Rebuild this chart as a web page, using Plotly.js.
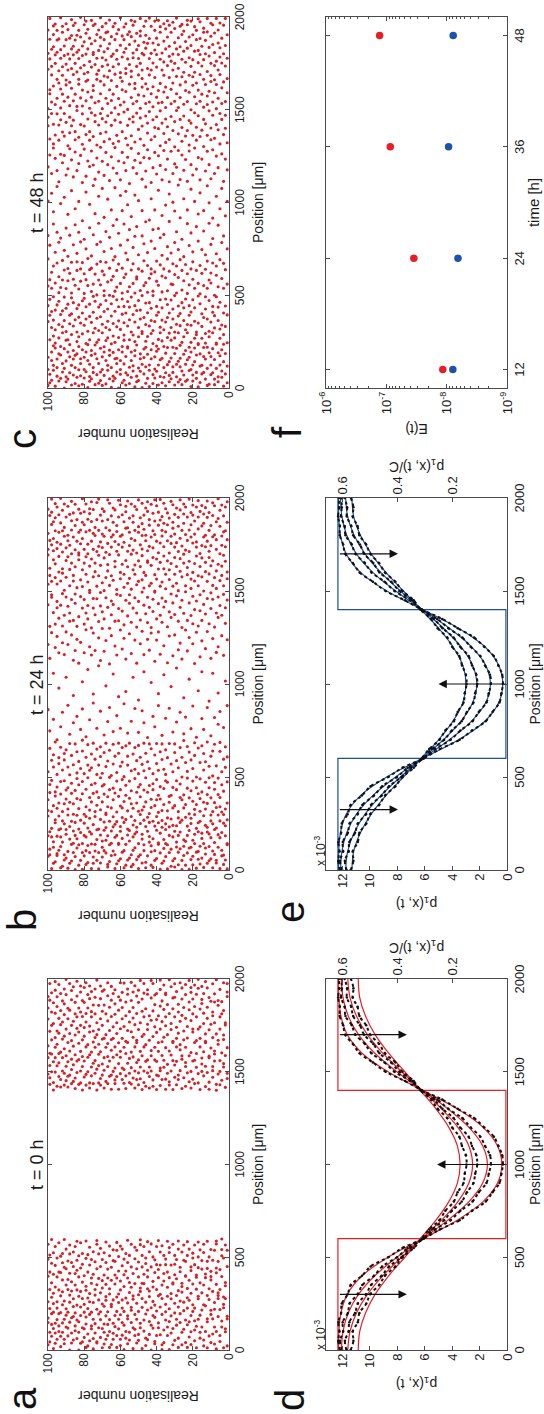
<!DOCTYPE html>
<html><head><meta charset="utf-8">
<script src="https://cdn.plot.ly/plotly-3.0.1.min.js"></script>
<style>
html,body{margin:0;padding:0;width:544px;height:1414px;overflow:hidden;background:#fff;}
#fig{position:absolute;left:0;top:0;width:1414px;height:544px;transform-origin:0 0;transform:translateY(1414px) rotate(-90deg);}
</style></head><body><div id="fig"></div>
<script>
// ---------------- DATA ----------------
// agent positions for each realisation 1..100, as 3-digit values in units of 2 um
const realisationsT0 = [
"011084091225269732746815953965988","049057139173182283708794876882","006114123143248763772837849915990","062078198254271299727801906939","023039109163217715751780865898972",
"090139147154239744824835929942","003050177208221286294700716852998","016062110128269779798806882938960","043084158242735753764842901911987","020096107189198212271814878940",
"038136165251703722788792863950","006076084147220239293748894924976","050119195205710765828832852993","011027122175263285739804880908961","062108154218241751771787934945980",
"032048094181270702817840871919","083138145222251291720745865975999","006064164196202762799834898959","025054079113230283718781829926984","104122178248261730779857865906946",
"015049093153214224706751802888964977","035076134188272723793917938996","007068113141166255292747841872","020081199200239711764775816894958985","056106129242283734836860923",
"014048156171180264705784793902946976","074098132211223753809823886990","007032116160272294729741854911932","067083147192244715778817840870966","026100126203231255735768898951987",
"014058178181285702780829832920949","046092138152229752795864880979","001077111195263276714723806907998","039062145169210293746770850931","081103123230245703730815874898958962",
"020054186206255762781843918984","001014096139175281729794831885941","041116150229264713753760865927972997","060073146195217295739805829901","039105163230279702741778856891961",
"017023088121209243782816871931957","059093131170185251711728845914988","000067114224286752793807889949996","042077144159265706737763835901","028108165197215292747782864878959971",
"012032097129233248711778823920","051081179204279721752817851898962988","004115139180224255702793845913946","060072158167284297731763805882996","026042104149197237715747782864937970",
"019083126219269729775829835907954","039056096179246277706752817877982","004060137146206733790843895923965","074107115169224285717761803858942991","027048155182255721746786884912",
"017084092127194236296773829861959973","032050140213260705739799832901938","001067104171203245719756816872989","040074113135227272729760840893923964","012029095162186280745789805866943990",
"057083128151213252703772828916952","007039104143194269290737796853882","063093178202239718728760817905933971","029045072135241270751789840871961","015117123188223703741808837899943980",
"007050082151165254280738779861924","039069103194218718764791826887955990","029092134144177236291724816850906","016048070118202262706754788840930971","006058124167187244741771838875913967",
"034082103154225274714732804893947981","060097135193259720767797824864929","019022110176219285295701757850882997","046071148163238746780816842906951973","003031083128204265718773830860930",
"057065102180194244739763803898912966","025096130152229277706720796857873947981","011043112140210257750789823922958","007070089161172247294714743817884907990","034057102123200736779846869937977",
"022060139183231260701764791836899942","018093116158221289720752805875911965981","000048076145197254716783827857922","031081121162215242293748779867898954994","052065100175206279705733796849906937",
"027090117138225264724769819886979","019046087159184236718756784834875944969","000075129148207259283741806853916988","038059102163190240709738777829893921","062094111175219272726765793865958999",
"017029083132223298714746812846904933973","048073122157189235260752788838884941","009037101146209253709729803877915961","050065098162210289737774799854894985","029082113130197248711766824860926952",
"018046072170228279749788816842908970993","004058102125153204262701721777880936","037069098142181234298750798836875911963","022048112163210256716734767800859943988","014074086130199245285744788820892922953"];
const realisationsT24 = [
"003068071135180237304442619726783801888935990","027092119164276331508663705830869912976","015040126149212298383577741764846909952","038053101156229264630685792817873898981","004087132170195319343426711778850924967",
"061095148203247392476600679734822945998","019026113168280585691757804862888936","042074109181217235338410653786901979","006051124157253320529622728765831896953987","030087132148194306361569703745818872926",
"025063097221248279454662796840857913961","018102115179203344437641730776884948992","043059120164236291595688802827869900974","007071146182269313378714750895932957","032085099210334407533616671788839872925980",
"016064131158192245289573697740816851964","029050103127205328482656764791917949993","005048112176221250357639723844868882976","071096149163308342555700777824903938","014037080185239273441608662736800879954981",
"028061125139213296380684757782895928961","002059106151194317513625718830856914997","046093118220247265332589671794813886949","013077142176289411645748764860902976","039064081167202348366463690825849932957984",
"001026134189250303567652725788871913","057102128195231329424610706803837892968995","014048093140157275592669751856924948","062075119216240294398543737771816880973","008031104173316339632687795840868903956",
"025089120167222264371576718763919935982","010056137201285493679742824878897991","047093116182198340435629694781807852946","003068140159236302557654831885928960","036071109124240257323408722756795909971",
"024058082176219271525603707810844869932986","018115133160297339362666731774898913950","002046099191224318580685763827879941996","069073127155201268442474640716809853927962","031107144189243286340618675782836884979",
"026052118173309385561747750794902938995","007084131216232259413695728840866912959","013049065168190326504637652771819895983","075090128152227273339591706764870927942","038104142209291356620665733827831858964990",
"006021117183248314689792885900973","052068134170215267341396533579712758800916954","019083096161284428642747780845863899931986","041125149197230303608672816874947","004036071158223259335370457722776831908923995",
"028102115180209294556653691767852969","060097133246271329434618732795820886913977","015053089121166312518704807860935952","009041144178213267400582666755849891984","032078106193239341635717740784872908946",
"027094110159282306368683771815857920992","013069136201228334480567725832919963978","006052128184251447623659760795881936","048085141167243290329594696822868901955","030104117172216279381645738783800897982",
"025069072198314341466670703847875949994","017093130156239262415578741754857910926","004041088123207306602669815830883968","051116143189220285338372527714779901935973","039072105167254630686723791868895952",
"023068131216249322437554650765848913986","008015092170197293399706804821878942995","046080114149153278341495617732786854920","052107129204230316363588675751839897964","035061078183226260649694772867903938971",
"019094136162248305331427563710746819882954","003047110195282549624668791846870913997","026082108174210257325381729763856942988","051069144157233298590686802825899921","018035122206341449473637704730788862905969",
"004070097183229275312578651836884937990","047103139161195268404600746752817913958971","020066113248282337539675711774850876943","015052089144170217303358646691795842909984","038093126150259584661727825862928963",
"002047071205238320349433506704762807891935998","026101134189273378612735780877914959","013068110165229292556681834847853908970","059084147192246261318413620655759884942","001036093128214339590717742815861926983",
"047072105150178283396469564671777792895960","024069131206233308632727825850914939991","018083117182256340365669691764808873956","005050148164221277443606709842885900978","032096109191215323518640734787832866949",
"027041124178240296313579685752897921984","010075132157269424611656743798810855912967","006063089111204238330385712777876933999","053108145180286302489584677801843908955","039044091166223257350628705722769864881976",
"022127135199210344598661786823912947985","018061076173277310405529692834858891936","004089112157241295638733740776874929962997","041056103208230327374569655792811886953","037092145160189264431606713768847862905970"];
const realisationsT48 = [
"014059122197280375503588661796834889952","038093166221319464617700735772868923996","005071118144202269336410557683825901978","029046103170295392538631724767809876943","062087134159231346483658740845892917984",
"017030095182218273439594696781857930965","053118121246304329362517625710753818881996","009024077162195250578673796831869904957","041106149204220337403458642735771926979","036062085178283310387564669701826842875948983",
"010095138153236291444499602747800895918","007053110186269342545638681764787853960996","024078121147213246320359585712818901937","042085109190276423478651724757832885959970","038061134166200309373617695792868921",
"015059092227254330526561678773845899942987","003117120175248282396469621734803877910995","026042089144151317435590668703766822939964","071108134180216269503647742785851908974","019035062238293340367574681816839885952",
"004050097123169205321418536602714750867923989","047083110196222278384639655721797843890946","022076149171255308443480557694772916979991","018064101157240333616679802825878934","035091138182216289354510587733765851908962",
"009046123230264317401628665702839886953980","023057080115168201346459562724783817920975","016072149194221298373547640685756862899944","030064107172256329421595748793840914997","008093135151249306392477604650718773875931969",
"042057110186213279335501578694822857900986","025081129163237280364638732766805881959","017034071148202315449523556670837894921978","063109136190225262348381617704783869946990","006041094178240297493589662725756811914968",
"029055112157321414640686798843879935982","014080127183216259302358465561714770857903","031076149164238332405600653747821886959974","008062105131204277430533626699768802925991","045099113196220288342577731784865899943",
"027051084179313376480635678702837911964989","012036120155249261427594723758812876930","079103147182215308321396510554669793857902975","004048062167230296453619745771844888942997","026091139203258330365642687714806861929",
"013057110126171229284448542585733767820916951989","038082105190276343389621654787898932975","001064147152249315410478563706811834857902","045079092186210263607671728754875949962996","020054138163236321359505632697790844888923",
"017032116209294300435578741773867912956","003087101125178222256409520614663807821935988","046060143198282335379594717731766890903978","029074097151245318462646680783839854947991","012056130184218273427551725819872926960",
"035108111167233260346399494622655708751887953","008041085202307364530586673799848861915982","021065129143176220298442607744771905939973","014097112199240256323478635691804827892949","037050074158282385519561716763837850924998",
"000103136181219334417612665738780873966","043066080165238272317454579681813886910955","026079123207261354540648722755846939983","019032096140174247301345438593659792866900974","002055119194227291376480623708742775829894947",
"025088102157250323406559671804855928992","048061135180213286509602734767838871915960","011074128163236339422635690717781884958983","034097111206249262305368460573664817841906939","007050084149172315538611726753867890974",
"020043107192225278341394649686740793827922945998","013066130155218291444517582709773856910965","036079123188251334387620655832846889953","009092116161234307470563718735769872936981","042055149204247280413546601678802815899904977",
"025088101177260323356639742784865928991","018031064130193226319432495597668691754880943","001074117153276349612725798830851914967","044097120186219292375528571683774827900956989","027050083169242255308401644706847870933979",
"010103146202235338451554657739760803896922","033066079175288321394627710782863946999","006049112138191224267420503605676819832888911964","029092125151214317340363586748759852905951","012055088184277440483636669691792875938984",
"035078101167230293386569722774845898921977","008061144200243256339532615707808861914950993","041084117173196309412645688730761824887943","024097130226289322355468591653784857900966","017030073129152215268431574716817830873939982",
"000053106182245318371514627679740773896922","043066149165208291344607690792843866959975","026089112198271404497630723755806889912998","019092135171234257300393556668709822855941","032055078224337420543586739781832905938964",
"005108121157210283366619682764875898981","048061114140183246329442475647658711814920953976","021074097163206269312525578740771844867913","014037130196239292385628671793804887940996","007050083179222275348411504596707730753859902965"];

const posData = [0,50,100,150,200,250,300,350,400,450,500,550,600,650,700,750,800,850,900,950,1000,1050,1100,1150,1200,1250,1300,1350,1400,1450,1500,1550,1600,1650,1700,1750,1800,1850,1900,1950,2000];
const dataT12 = [12.18,12.31,12.22,12.30,12.10,12.05,11.62,11.40,10.58,9.95,8.66,7.62,6.08,4.90,3.45,2.55,1.55,1.06,0.55,0.41,0.30,0.35,0.63,0.96,1.66,2.40,3.60,4.72,6.22,7.44,8.85,9.78,10.75,11.24,11.80,11.95,12.20,12.19,12.32,12.24,12.26];
const dataT24 = [12.02,12.18,11.95,11.98,11.60,11.48,10.90,10.55,9.70,9.10,8.02,7.25,6.10,5.25,4.12,3.40,2.52,2.06,1.50,1.33,1.18,1.24,1.60,1.95,2.65,3.26,4.28,5.08,6.22,7.08,8.20,8.93,9.88,10.36,11.06,11.32,11.78,11.84,12.10,12.05,12.08];
const dataT36 = [11.70,11.82,11.55,11.50,11.08,10.88,10.28,9.92,9.14,8.60,7.70,7.05,6.12,5.48,4.58,4.02,3.30,2.92,2.45,2.32,2.17,2.24,2.55,2.80,3.42,3.90,4.70,5.33,6.25,6.90,7.85,8.45,9.30,9.75,10.42,10.72,11.22,11.36,11.68,11.66,11.84];
const dataT48 = [11.40,11.20,11.25,10.88,10.76,10.26,9.98,9.32,8.90,8.14,7.62,6.80,6.22,5.68,4.93,4.50,3.88,3.60,3.17,3.08,2.95,3.00,3.28,3.48,4.00,4.36,5.06,5.55,6.33,6.80,7.62,8.14,8.90,9.33,9.97,10.27,10.76,10.90,11.25,11.20,11.38];

const posModel = [0,100,200,300,400,500,600,700,800,900,1000,1100,1200,1300,1400,1500,1600,1700,1800,1900,2000];
const redT12 = [12.29,12.26,12.11,11.65,10.57,8.68,6.15,3.62,1.74,0.69,0.38,0.69,1.74,3.62,6.15,8.68,10.57,11.65,12.11,12.26,12.29];
const redT24 = [12.08,11.96,11.58,10.83,9.64,8.03,6.16,4.31,2.77,1.77,1.43,1.77,2.77,4.31,6.16,8.03,9.64,10.83,11.58,11.96,12.08];
const redT36 = [11.61,11.45,10.98,10.18,9.06,7.68,6.22,4.77,3.58,2.78,2.51,2.78,3.58,4.77,6.22,7.68,9.06,10.18,10.98,11.45,11.61];
const redT48 = [10.85,10.74,10.32,9.62,8.63,7.45,6.33,5.18,4.24,3.62,3.42,3.62,4.24,5.18,6.33,7.45,8.63,9.62,10.32,10.74,10.85];
const blueT12 = [12.29,12.27,12.15,11.73,10.69,8.77,6.15,3.53,1.61,0.60,0.31,0.60,1.61,3.53,6.15,8.77,10.69,11.73,12.15,12.27,12.29];
const blueT24 = [12.14,12.04,11.69,10.98,9.79,8.12,6.16,4.20,2.58,1.55,1.21,1.55,2.58,4.20,6.16,8.12,9.79,10.98,11.69,12.04,12.14];
const blueT36 = [11.77,11.62,11.15,10.35,9.21,7.77,6.19,4.64,3.35,2.50,2.20,2.50,3.35,4.64,6.19,7.77,9.21,10.35,11.15,11.62,11.77];
const blueT48 = [11.31,11.18,10.69,9.90,8.83,7.55,6.27,4.99,3.94,3.22,2.99,3.22,3.94,4.99,6.27,7.55,8.83,9.90,10.69,11.18,11.31];
const stepX = [0,600,600,1400,1400,2000];
const stepY = [12.33,12.33,0.08,0.08,12.33,12.33];

const arrowX_d = [300,1000,1700], arrowFrom_d = [12.3,0,12.3], arrowTo_d = [7.3,5.1,7.3];
const arrowX_e = [325,1000,1700], arrowFrom_e = [12.3,0,12.3], arrowTo_e = [7.95,5.0,7.95];

const times = [12,24,36,48];
const errorRed = [1.16e-8,3.5e-8,8.6e-8,1.29e-7];
const errorBlue = [7.9e-9,6.5e-9,9.3e-9,7.8e-9];

const posTicks = [0,500,1000,1500,2000];
const realTicks = [0,20,40,60,80,100];
const pTicks = [0,2,4,6,8,10,12];
const pcTicks = [0.2,0.4,0.6];
const eTicks = [1e-9,1e-8,1e-7,1e-6];
const eTickText = ['10<sup>-9</sup>','10<sup>-8</sup>','10<sup>-7</sup>','10<sup>-6</sup>'];
const panelTitles = ['t = 0 h','t = 24 h','t = 48 h'];

// ---------------- BUILD ----------------
const W = 1414, H = 544;
const px = X => X / W, py = Y => 1 - Y / H;
const colX = [[64,435],[544,916],[1026,1397]];
const rowY = [[48,229],[326,507]];
const dX = c => [px(colX[c][0]), px(colX[c][1])];
const dY = r => [py(rowY[r][1]), py(rowY[r][0])];

const FONT = 'Liberation Sans, Arial, sans-serif';
const AX = '#4a4a4a';
const RED_DOT = 'rgb(214,32,40)';
const RED_LINE = 'rgb(236,28,36)';
const BLUE_LINE = 'rgb(28,78,160)';

function axis(extra){
  return Object.assign({showline:true, linecolor:AX, linewidth:1, mirror:'ticks', ticks:'inside', ticklen:4, tickwidth:1,
    tickcolor:AX, showgrid:false, zeroline:false, tickfont:{size:12,color:'#1a1a1a'}, fixedrange:true, automargin:false}, extra);
}
function decode(rows){
  const x=[], y=[];
  rows.forEach((s,i)=>{ for(let k=0;k+2<s.length;k+=3){ x.push(Number(s.substr(k,3))*2); y.push(i+1); } });
  return {x,y};
}

const traces = [];
[[realisationsT0,'x','y'],[realisationsT24,'x2','y2'],[realisationsT48,'x3','y3']].forEach(([rows,xa,ya])=>{
  const p = decode(rows);
  traces.push({type:'scatter', mode:'markers', x:p.x, y:p.y, xaxis:xa, yaxis:ya, marker:{size:3.1, color:RED_DOT}, hoverinfo:'skip', showlegend:false});
});

function modelPanel(xa, ya, color, curves){
  traces.push({type:'scatter', mode:'lines', x:stepX, y:stepY, xaxis:xa, yaxis:ya, line:{color:color, width:1.2}, hoverinfo:'skip', showlegend:false});
  curves.forEach(c => traces.push({type:'scatter', mode:'lines', x:posModel, y:c, xaxis:xa, yaxis:ya, line:{color:color, width:1.2, shape:'spline'}, hoverinfo:'skip', showlegend:false}));
  [dataT12,dataT24,dataT36,dataT48].forEach(d => traces.push({type:'scatter', mode:'lines+markers', x:posData, y:d, xaxis:xa, yaxis:ya,
    line:{color:'#111', width:2, dash:'dot', shape:'spline'}, marker:{size:2.5, color:'#111'}, hoverinfo:'skip', showlegend:false}));
}
modelPanel('x4','y4',RED_LINE,[redT12,redT24,redT36,redT48]);
modelPanel('x5','y5',BLUE_LINE,[blueT12,blueT24,blueT36,blueT48]);
traces.push({type:'scatter', x:[], y:[], xaxis:'x4', yaxis:'y7', showlegend:false, hoverinfo:'skip'});
traces.push({type:'scatter', x:[], y:[], xaxis:'x5', yaxis:'y8', showlegend:false, hoverinfo:'skip'});
traces.push({type:'scatter', mode:'markers', x:times, y:errorRed, xaxis:'x6', yaxis:'y6', marker:{size:7.5, color:'rgb(232,30,38)'}, hoverinfo:'skip', showlegend:false});
traces.push({type:'scatter', mode:'markers', x:times, y:errorBlue, xaxis:'x6', yaxis:'y6', marker:{size:7.5, color:'rgb(28,82,168)'}, hoverinfo:'skip', showlegend:false});

const ttl = (t, so, s) => ({text:t, font:{size:s||14, color:'#1a1a1a'}, standoff:so});
const tf13 = {size:13, color:'#1a1a1a'};

const layout = {
  width:W, height:H, margin:{l:0,r:0,t:0,b:0}, paper_bgcolor:'#fff', plot_bgcolor:'#fff',
  font:{family:FONT, color:'#1a1a1a'}, showlegend:false,
  xaxis: axis({domain:dX(0), anchor:'y', range:[0,2000], tickvals:posTicks, title:ttl('Position [μm]',6)}),
  yaxis: axis({domain:dY(0), anchor:'x', range:[0,100], tickvals:realTicks, title:ttl('Realisation number',13)}),
  xaxis2: axis({domain:dX(1), anchor:'y2', range:[0,2000], tickvals:posTicks, title:ttl('Position [μm]',6)}),
  yaxis2: axis({domain:dY(0), anchor:'x2', range:[0,100], tickvals:realTicks, title:ttl('Realisation number',13)}),
  xaxis3: axis({domain:dX(2), anchor:'y3', range:[0,2000], tickvals:posTicks, title:ttl('Position [μm]',6)}),
  yaxis3: axis({domain:dY(0), anchor:'x3', range:[0,100], tickvals:realTicks, title:ttl('Realisation number',13)}),
  xaxis4: axis({domain:dX(0), anchor:'y4', range:[0,2000], tickvals:posTicks, tickfont:tf13, title:ttl('Position [μm]',2)}),
  yaxis4: axis({domain:dY(1), anchor:'x4', range:[0,13.2], tickvals:pTicks, mirror:true, tickfont:tf13, title:ttl('p<sub>1</sub>(x, t)',7)}),
  yaxis7: axis({domain:dY(1), anchor:'x4', overlaying:'y4', side:'right', range:[0,0.66], tickvals:pcTicks, mirror:false, tickfont:tf13, title:ttl('p<sub>1</sub>(x, t)/C',5)}),
  xaxis5: axis({domain:dX(1), anchor:'y5', range:[0,2000], tickvals:posTicks, tickfont:tf13, title:ttl('Position [μm]',2)}),
  yaxis5: axis({domain:dY(1), anchor:'x5', range:[0,13.2], tickvals:pTicks, mirror:true, tickfont:tf13, title:ttl('p<sub>1</sub>(x, t)',7)}),
  yaxis8: axis({domain:dY(1), anchor:'x5', overlaying:'y5', side:'right', range:[0,0.66], tickvals:pcTicks, mirror:false, tickfont:tf13, title:ttl('p<sub>1</sub>(x, t)/C',5)}),
  xaxis6: axis({domain:dX(2), anchor:'y6', range:[10,50], tickvals:times, tickfont:tf13, title:ttl('time [h]',2,15)}),
  yaxis6: axis({domain:dY(1), anchor:'x6', type:'log', range:[-9,-6], tickvals:eTicks, ticktext:eTickText, tickfont:tf13,
    minor:{ticks:'inside', ticklen:2, tickcolor:AX, dtick:'D1'}, title:ttl('E(t)',5)}),
  annotations: []
};

const ann = layout.annotations;
[['a',15,22],['b',494,22],['c',975,22],['d',14,290],['e',502,290],['f',982,287]].forEach(([t,X,Y]) =>
  ann.push({text:t, x:px(X), y:py(Y), xref:'paper', yref:'paper', xanchor:'center', yanchor:'middle', showarrow:false, font:{size:40, color:'#111'}}));
panelTitles.forEach((t,i) => ann.push({text:t, x:px((colX[i][0]+colX[i][1])/2), y:py(37), xref:'paper', yref:'paper', xanchor:'center', yanchor:'middle', showarrow:false, font:{size:18}}));
[62,546].forEach(X => ann.push({text:'x 10<sup>-3</sup>', x:px(X), y:py(320), xref:'paper', yref:'paper', xanchor:'left', yanchor:'middle', showarrow:false, font:{size:12}}));
function arrows(xa, ya, xs, from, to){
  xs.forEach((x,i) => ann.push({x:x, y:to[i], ax:x, ay:from[i], xref:xa, yref:ya, axref:xa, ayref:ya, text:'', showarrow:true,
    arrowhead:2, arrowsize:1.4, arrowwidth:1.2, arrowcolor:'#111', standoff:0, startstandoff:0}));
}
arrows('x4','y4',arrowX_d,arrowFrom_d,arrowTo_d);
arrows('x5','y5',arrowX_e,arrowFrom_e,arrowTo_e);

Plotly.newPlot('fig', traces, layout, {staticPlot:true, displayModeBar:false});
</script></body></html>
